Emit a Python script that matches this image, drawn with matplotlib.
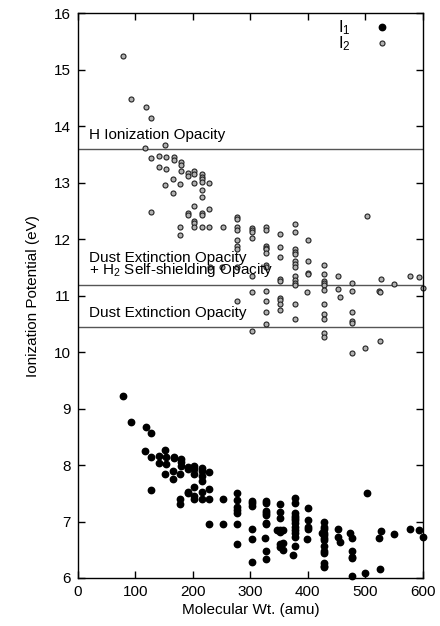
import matplotlib
matplotlib.use("Agg")
import matplotlib.pyplot as plt

plt.rcParams['font.family'] = ['Liberation Sans', 'DejaVu Sans']
plt.rcParams['mathtext.fontset'] = 'custom'
plt.rcParams['mathtext.rm'] = 'Liberation Sans'
plt.rcParams['mathtext.it'] = 'Liberation Sans'

# I2 (second ionization potential, open markers)
i2_mw = [78, 92, 118, 128, 116, 152,
         128, 141, 154, 167, 167, 179, 179,
         141, 154, 180, 191, 191, 202, 202,
         216, 216, 216, 166, 178, 152, 202,
         216, 228, 216, 166, 216, 128, 202,
         191, 191, 202, 202, 216, 216, 228,
         178, 178, 202, 216, 228, 252,
         276, 276, 276, 276, 276, 276, 276, 276, 276,
         302, 302, 302, 302, 302, 302, 302,
         328, 328, 328, 328, 328, 328, 328, 328, 328, 328, 328, 328,
         351, 351, 351, 351, 351, 351, 351, 351, 351,
         378, 378, 378, 378, 378, 378, 378, 378, 378, 378, 378, 378, 378, 378,
         401, 401, 401, 401, 398,
         428, 428, 428, 428, 428, 428, 428, 428, 428, 428, 428,
         452, 452, 456,
         476, 476, 476, 476, 476, 476,
         503, 500,
         524, 526, 525, 528,
         550, 577, 594, 600,
         229, 251]
i2_ip = [15.25, 14.49, 14.34, 14.15, 13.62, 13.66,
         13.44, 13.47, 13.45, 13.45, 13.40, 13.37, 13.32,
         13.28, 13.24, 13.21, 13.17, 13.12, 13.20, 13.15,
         13.15, 13.10, 13.07, 13.06, 12.97, 12.96, 12.99,
         13.01, 13.00, 12.88, 12.81, 12.75, 12.49, 12.58,
         12.46, 12.42, 12.32, 12.28, 12.46, 12.42, 12.53,
         12.22, 12.07, 12.22, 12.21, 12.22, 12.22,
         12.39, 12.36, 12.21, 12.17, 11.99, 11.88, 11.82, 11.51, 10.91,
         12.20, 12.16, 12.13, 12.03, 11.35, 11.07, 10.38,
         12.22, 12.16, 11.88, 11.85, 11.82, 11.76, 11.54, 11.51, 11.09, 10.91, 10.71, 10.50,
         12.09, 11.86, 11.68, 11.30, 11.26, 10.95, 10.92, 10.86, 10.74,
         12.27, 12.13, 11.82, 11.78, 11.73, 11.61, 11.56, 11.51, 11.35, 11.28, 11.23, 11.19, 10.86, 10.59,
         11.98, 11.61, 11.41, 11.38, 11.07,
         11.55, 11.38, 11.26, 11.22, 11.18, 11.10, 10.86, 10.68, 10.59, 10.34, 10.27,
         11.35, 11.12, 10.97,
         11.23, 11.09, 10.71, 10.55, 10.52, 9.99,
         12.41, 10.07,
         11.08, 11.07, 10.19, 11.30,
         11.20, 11.34, 11.33, 11.13,
         11.51, 11.51]

# I1 (first ionization potential, filled markers)
i1_mw = [78, 92, 118, 128, 116, 152, 128, 141, 141, 154, 154, 167, 167, 179, 179, 179,
         191, 191, 202, 202, 216, 216, 216, 216, 228, 152, 166, 166, 178, 202,
         128, 191, 191, 202, 202, 216, 228, 178, 178, 202, 216, 228, 252, 228, 252,
         277, 277, 277, 277, 277, 277, 277,
         302, 302, 302, 302, 302, 302,
         328, 328, 328, 328, 328, 328, 328, 326, 328, 328,
         351, 351, 351, 351, 351, 346, 356, 351, 356, 351, 356,
         378, 378, 378, 378, 378, 378, 378, 378, 378, 378, 378, 378, 375,
         401, 401, 401, 401, 398,
         428, 428, 428, 428, 424, 428, 428, 428, 428, 428, 428, 428, 428, 428,
         452, 452, 456,
         473, 476, 476, 476, 476, 476,
         500, 503, 524, 527, 525, 550, 577, 594, 600]
i1_ip = [9.23, 8.77, 8.68, 8.57, 8.25, 8.27, 8.14, 8.16, 8.03, 8.14, 8.01, 8.15, 8.12, 8.10, 8.06, 7.99,
         7.97, 7.93, 7.98, 7.93, 7.95, 7.90, 7.81, 7.71, 7.87, 7.84, 7.90, 7.75, 7.85, 7.85,
         7.56, 7.53, 7.50, 7.62, 7.45, 7.52, 7.58, 7.40, 7.31, 7.40, 7.40, 7.40, 7.40, 6.96, 6.96,
         7.50, 7.38, 7.26, 7.20, 7.15, 6.96, 6.60,
         7.37, 7.33, 7.28, 6.87, 6.69, 6.28,
         7.37, 7.33, 7.19, 7.15, 7.12, 6.98, 6.95, 6.70, 6.48, 6.34,
         7.31, 7.17, 7.06, 6.85, 6.82, 6.85, 6.85, 6.61, 6.62, 6.55, 6.50,
         7.41, 7.33, 7.15, 7.10, 7.06, 7.03, 6.97, 6.91, 6.85, 6.80, 6.73, 6.57, 6.40,
         7.24, 7.03, 6.90, 6.87, 6.69,
         6.99, 6.90, 6.86, 6.80, 6.80, 6.77, 6.70, 6.67, 6.57, 6.48, 6.44, 6.26, 6.22, 6.19,
         6.86, 6.73, 6.64,
         6.79, 6.70, 6.48, 6.38, 6.35, 6.04,
         6.09, 7.50, 6.70, 6.84, 6.16, 6.78, 6.87, 6.85, 6.73]

# Opacity thresholds
thresholds = [13.6, 11.18, 10.45]
label_texts = ["H Ionization Opacity",
               "Dust Extinction Opacity",
               "+ H$_2$ Self-shielding Opacity",
               "Dust Extinction Opacity"]
label_y = [13.78, 11.59, 11.38, 10.63]

fig = plt.figure(figsize=(4.4, 6.26), dpi=100)
ax = fig.add_axes([0.177, 0.0767, 0.784, 0.902])

ax.plot(i1_mw, i1_ip, linestyle='none', marker='o', markersize=4.6,
        markerfacecolor='black', markeredgecolor='black', clip_on=False,
        label='I$_1$')
ax.plot(i2_mw, i2_ip, linestyle='none', marker='o', markersize=3.6,
        markerfacecolor='#b0b0b0', markeredgecolor='#222222', markeredgewidth=0.8,
        clip_on=False, label='I$_2$')

for yv in thresholds:
    ax.axhline(yv, color='#555555', linewidth=1.0, zorder=0)

for t, yv in zip(label_texts, label_y):
    ax.text(19, yv, t, fontsize=11, va='baseline', ha='left')

ax.set_xlim(0, 600)
ax.set_ylim(6, 16)
ax.set_xticks([0, 100, 200, 300, 400, 500, 600])
ax.set_yticks([6, 7, 8, 9, 10, 11, 12, 13, 14, 15, 16])
ax.tick_params(direction='in', top=True, right=True, length=5, width=1,
               labelsize=11, pad=5)
for s in ax.spines.values():
    s.set_linewidth(1.0)

ax.set_xlabel("Molecular Wt. (amu)", fontsize=11, labelpad=3)
ax.set_ylabel("Ionization Potential (eV)", fontsize=11, labelpad=10)

ax.legend(loc='upper right', bbox_to_anchor=(0.92, 1.0), frameon=False,
          markerfirst=False, fontsize=12, handlelength=1.0, handletextpad=1.4,
          labelspacing=-0.15, borderaxespad=0.0, borderpad=0.3)

fig.savefig("out.png", dpi=100)
